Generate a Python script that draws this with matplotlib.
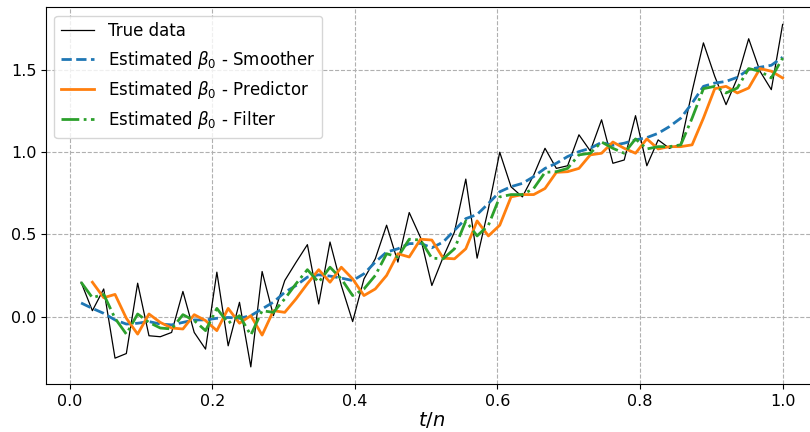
import numpy as np
import matplotlib
matplotlib.use("Agg")
import matplotlib.pyplot as plt

# observations and Kalman estimates, n = 63 steps
n = 63
true_data = [0.209, 0.036, 0.168, -0.252, -0.224, 0.203, -0.116, -0.122, -0.096, 0.153,
             -0.096, -0.197, 0.270, -0.177, 0.087, -0.305, 0.274, 0.006, 0.219, 0.330,
             0.437, 0.077, 0.453, 0.189, -0.030, 0.229, 0.351, 0.555, 0.331, 0.632,
             0.480, 0.189, 0.361, 0.514, 0.835, 0.355, 0.656, 0.998, 0.788, 0.727,
             0.859, 1.022, 0.900, 0.916, 1.104, 1.006, 1.195, 0.931, 0.951, 1.220,
             0.916, 1.073, 1.022, 1.047, 1.368, 1.662, 1.459, 1.287, 1.449, 1.687,
             1.490, 1.378, 1.774]

smoother = [0.083, 0.050, 0.020, -0.020, -0.045, -0.040, -0.030, -0.045, -0.050, -0.035,
            -0.020, -0.020, -0.010, -0.005, -0.010, 0.006, 0.047, 0.088, 0.148, 0.189,
            0.240, 0.254, 0.246, 0.234, 0.219, 0.260, 0.331, 0.392, 0.412, 0.443,
            0.445, 0.418, 0.453, 0.524, 0.595, 0.620, 0.687, 0.758, 0.789, 0.809,
            0.850, 0.900, 0.931, 0.972, 1.002, 1.022, 1.058, 1.040, 1.053, 1.073,
            1.087, 1.113, 1.154, 1.205, 1.296, 1.398, 1.418, 1.428, 1.453, 1.500,
            1.514, 1.526, 1.575]

filt = [0.209, 0.115, 0.135, -0.010, -0.106, 0.016, -0.035, -0.069, -0.075, 0.012,
        -0.024, -0.085, 0.050, -0.040, 0.006, -0.112, 0.036, 0.026, 0.108, 0.200,
        0.285, 0.209, 0.300, 0.229, 0.128, 0.168, 0.250, 0.382, 0.362, 0.470,
        0.465, 0.355, 0.351, 0.412, 0.581, 0.490, 0.555, 0.727, 0.741, 0.741,
        0.778, 0.876, 0.880, 0.900, 0.982, 0.992, 1.060, 1.022, 0.992, 1.079,
        1.018, 1.032, 1.032, 1.043, 1.205, 1.384, 1.398, 1.358, 1.388, 1.506,
        1.490, 1.449, 1.570]

# predictor starts at the second step
predictor = [0.209, 0.115, 0.135, -0.010, -0.106, 0.016, -0.035, -0.069, -0.075,
             0.012, -0.024, -0.085, 0.050, -0.040, 0.006, -0.112, 0.036, 0.026, 0.108,
             0.200, 0.285, 0.209, 0.300, 0.229, 0.128, 0.168, 0.250, 0.382, 0.362,
             0.470, 0.465, 0.355, 0.351, 0.412, 0.581, 0.490, 0.555, 0.727, 0.741,
             0.741, 0.778, 0.876, 0.880, 0.900, 0.982, 0.992, 1.060, 1.022, 0.992,
             1.079, 1.018, 1.032, 1.032, 1.043, 1.205, 1.384, 1.398, 1.358, 1.388,
             1.506, 1.490, 1.449]

t = np.arange(1, n + 1) / n

fig = plt.figure(figsize=(8.1, 4.32), dpi=100)
ax = fig.add_axes([46 / 810, 48 / 432, 771.7 / 810, 376.7 / 432])

ax.plot(t, true_data, color="black", linewidth=0.9, label="True data")
ax.plot(t, smoother, "--", color="C0", linewidth=2, label=r"Estimated $\beta_0$ - Smoother")
ax.plot(t[1:], predictor, "-", color="C1", linewidth=2, label=r"Estimated $\beta_0$ - Predictor")
ax.plot(t, filt, "-.", color="C2", linewidth=2, label=r"Estimated $\beta_0$ - Filter")

ax.grid(True, linestyle="--", color="#b0b0b0", linewidth=0.8)
ax.tick_params(labelsize=11.5)
ax.set_xlabel(r"$t/n$", fontsize=14, labelpad=1)
ax.legend(loc="upper left", fontsize=12)

fig.savefig("out.png", dpi=100)
